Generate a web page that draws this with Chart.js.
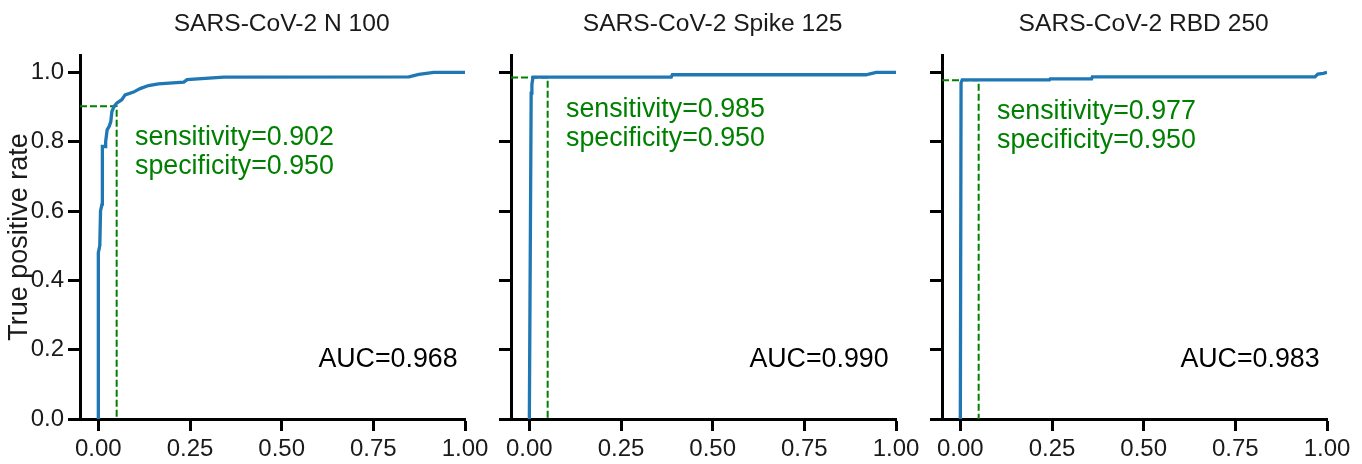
<!DOCTYPE html>
<html>
<head>
<meta charset="utf-8">
<script src="https://cdn.jsdelivr.net/npm/chart.js@4.4.1/dist/chart.umd.min.js"></script>
<style>
    html, body { margin: 0; padding: 0; background: #ffffff; }
    #wrap { position: relative; width: 1362px; height: 464px; overflow: hidden; }
    canvas { position: absolute; top: 0; }
</style>
</head>
<body>
<div id="wrap">
    <canvas id="c0" width="500" height="464" style="left:0px"></canvas>
    <canvas id="c1" width="500" height="464" style="left:431px"></canvas>
    <canvas id="c2" width="500" height="464" style="left:862px"></canvas>
</div>
<script>
// panel texts and summary numbers
const panelTitles = ['SARS-CoV-2 N 100', 'SARS-CoV-2 Spike 125', 'SARS-CoV-2 RBD 250'];
const aucValues = [0.968, 0.990, 0.983];
const sensitivity = [0.902, 0.985, 0.977];
const specificity = [0.950, 0.950, 0.950];

// ROC curves (false positive rate / true positive rate)
const fprN = [0, 0, 0.004, 0.006, 0.010, 0.011, 0.019, 0.020, 0.024, 0.030, 0.034, 0.037, 0.043, 0.050, 0.064, 0.073, 0.096, 0.114, 0.137, 0.164, 0.233, 0.242, 0.342, 0.847, 0.874, 0.915, 1.0];
const tprN = [0, 0.48, 0.50, 0.60, 0.62, 0.786, 0.786, 0.80, 0.834, 0.845, 0.858, 0.887, 0.902, 0.911, 0.921, 0.935, 0.943, 0.953, 0.962, 0.967, 0.972, 0.979, 0.986, 0.987, 0.994, 1.0, 1.0];

const fprSpike = [0, 0.005, 0.007, 0.010, 0.387, 0.390, 0.918, 0.946, 1.0];
const tprSpike = [0, 0.94, 0.965, 0.986, 0.986, 0.993, 0.993, 1.0, 1.0];

const fprRbd = [0, 0.002, 0.005, 0.243, 0.245, 0.358, 0.360, 0.967, 0.975, 0.990, 1.0];
const tprRbd = [0, 0.970, 0.978, 0.978, 0.981, 0.981, 0.987, 0.987, 0.995, 0.997, 1.0];

const curves = [[fprN, tprN], [fprSpike, tprSpike], [fprRbd, tprRbd]];

const xTicks = [0, 0.25, 0.5, 0.75, 1.0];
const yTicks = [0, 0.2, 0.4, 0.6, 0.8, 1.0];

const BLUE = '#1f77b4';
const GREEN = '#008000';
const INK = '#1a1a1a';
const FONT = "'Liberation Sans', Arial, sans-serif";

const toPoints = (xs, ys) => xs.map((x, i) => ({ x: x, y: ys[i] }));

// titles and the sensitivity / AUC notes
const notesPlugin = {
    id: 'notes',
    afterDatasetsDraw(chart) {
        const i = chart.options.plugins.notes.index;
        const { ctx, scales: { x, y } } = chart;
        ctx.save();
        ctx.textBaseline = 'alphabetic';

        ctx.fillStyle = INK;
        ctx.font = '24.6px ' + FONT;
        ctx.textAlign = 'center';
        ctx.fillText(panelTitles[i], x.getPixelForValue(0.5), 31);

        ctx.fillStyle = GREEN;
        ctx.font = '26.8px ' + FONT;
        ctx.textAlign = 'left';
        const y0 = y.getPixelForValue(sensitivity[i]) + 39;
        ctx.fillText('sensitivity=' + sensitivity[i].toFixed(3), x.getPixelForValue(0.1), y0);
        ctx.fillText('specificity=' + specificity[i].toFixed(3), x.getPixelForValue(0.1), y0 + 29);

        ctx.fillStyle = '#000000';
        ctx.textAlign = 'right';
        ctx.fillText('AUC=' + aucValues[i].toFixed(3), x.getPixelForValue(0.98), y.getPixelForValue(0.15));
        ctx.restore();
    }
};

function makeChart(i) {
    const canvas = document.getElementById('c' + i);
    const cut = 1 - specificity[i];
    const axisLine = { display: true, color: '#000000', width: 3 };
    const tickMarks = {
        display: true, drawOnChartArea: false, drawTicks: true,
        tickLength: 12, tickWidth: 3, tickColor: '#000000'
    };

    return new Chart(canvas.getContext('2d'), {
        type: 'scatter',
        data: {
            datasets: [{
                data: toPoints(curves[i][0], curves[i][1]),
                showLine: true,
                borderColor: BLUE,
                borderWidth: 3.3,
                pointRadius: 0,
                tension: 0
            }, {
                data: toPoints([-0.05, cut, cut], [sensitivity[i], sensitivity[i], 0]),
                showLine: true,
                borderColor: GREEN,
                borderWidth: 2,
                borderDash: [7, 3],
                pointRadius: 0,
                tension: 0
            }]
        },
        options: {
            responsive: false,
            animation: false,
            events: [],
            layout: { padding: { top: 55, right: 35, bottom: 0, left: 0 } },
            plugins: {
                legend: { display: false },
                tooltip: { enabled: false },
                notes: { index: i }
            },
            scales: {
                x: {
                    type: 'linear', min: -0.05, max: 1.0,
                    afterBuildTicks: (s) => { s.ticks = xTicks.map(v => ({ value: v })); },
                    afterFit: (s) => { s.height = 45; },
                    border: axisLine,
                    grid: tickMarks,
                    ticks: {
                        padding: 4, color: INK, maxRotation: 0,
                        font: { family: FONT, size: 24 },
                        callback: (v) => Number(v).toFixed(2)
                    }
                },
                y: {
                    type: 'linear', min: 0, max: 1.05,
                    afterBuildTicks: (s) => { s.ticks = yTicks.map(v => ({ value: v })); },
                    afterFit: (s) => { s.width = 80; },
                    border: axisLine,
                    grid: tickMarks,
                    title: {
                        display: i === 0, text: 'True positive rate', color: INK,
                        font: { family: FONT, size: 27 }, padding: { top: 3, bottom: 0 }
                    },
                    ticks: {
                        display: i === 0, padding: 4, color: INK,
                        font: { family: FONT, size: 24 },
                        callback: (v) => Number(v).toFixed(1)
                    }
                }
            }
        },
        plugins: [notesPlugin]
    });
}

[0, 1, 2].forEach(makeChart);
</script>
</body>
</html>
